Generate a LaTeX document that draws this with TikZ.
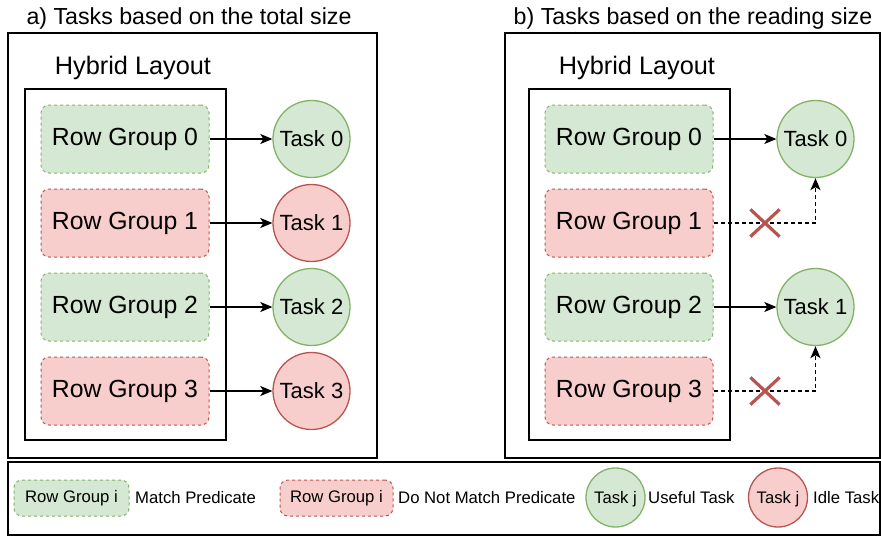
\documentclass[tikz,border=0pt]{standalone}
\usepackage{fontspec}
\setmainfont{Liberation Sans}
\usetikzlibrary{arrows.meta,shapes.misc}
\definecolor{okfill}{HTML}{D5E8D4}
\definecolor{okline}{HTML}{82B366}
\definecolor{nofill}{HTML}{F8CECC}
\definecolor{noline}{HTML}{B85450}
\begin{document}
\begin{tikzpicture}[x=1pt,y=-1pt,>={Stealth[length=12pt,width=10pt,inset=3pt]}]
        \tikzstyle{rgok}=[rectangle,rounded corners=8pt,dashed,dash pattern=on 3pt off 3pt,line width=1pt,draw=okline,fill=okfill,minimum width=168pt,minimum height=68pt,font=\fontsize{24.8}{28}\selectfont]
        \tikzstyle{rgno}=[rgok,draw=noline,fill=nofill]
        \tikzstyle{taskok}=[circle,line width=1.3pt,draw=okline,fill=okfill,minimum size=77pt,inner sep=0pt,text depth=0pt,font=\fontsize{22}{26}\selectfont]
        \tikzstyle{taskno}=[taskok,draw=noline,fill=nofill]
        \tikzstyle{frame}=[draw,line width=1.3pt]
        \tikzstyle{title}=[inner sep=0pt,font=\fontsize{23.2}{28}\selectfont]
        \tikzstyle{edge}=[draw,line width=1.5pt,->]
        \tikzstyle{skip}=[draw,line width=1.5pt,dashed,dash pattern=on 4pt off 3pt,->]
        \tikzstyle{nope}=[cross out,draw=noline,line width=3.2pt,minimum width=26pt,minimum height=24pt,inner sep=0pt]
        \tikzstyle{legtext}=[anchor=west,inner sep=0pt,font=\fontsize{16.7}{20}\selectfont]
        \useasboundingbox (0,0) rectangle (881,536);
       % a) total size
       \begin{scope}
         \node [title] (ta) at (189,18) {a) Tasks based on the total size};
         \draw [frame] (8,33) rectangle (377,458);
         \node [title,font=\fontsize{25.3}{30}\selectfont] (hla) at (133,68) {Hybrid Layout};
         \draw [frame] (25,89) rectangle (226,440);
         \node [rgok] (rg0a) at (125,139) {Row Group 0};
         \node [rgno] (rg1a) at (125,223) {Row Group 1};
         \node [rgok] (rg2a) at (125,307) {Row Group 2};
         \node [rgno] (rg3a) at (125,391) {Row Group 3};
         \node [taskok] (t0a) at (311.5,139) {Task 0};
         \node [taskno] (t1a) at (311.5,223) {Task 1};
         \node [taskok] (t2a) at (311.5,307) {Task 2};
         \node [taskno] (t3a) at (311.5,391) {Task 3};
         \path[edge] (rg0a) -- (t0a);
         \path[edge] (rg1a) -- (t1a);
         \path[edge] (rg2a) -- (t2a);
         \path[edge] (rg3a) -- (t3a);
        \end{scope}
       % b) reading size
       \begin{scope}
         \node [title] (tb) at (693,18) {b) Tasks based on the reading size};
         \draw [frame] (505,33) rectangle (880,458);
         \node [title,font=\fontsize{25.3}{30}\selectfont] (hlb) at (637,68) {Hybrid Layout};
         \draw [frame] (529,89) rectangle (730,440);
         \node [rgok] (rg0b) at (629,139) {Row Group 0};
         \node [rgno] (rg1b) at (629,223) {Row Group 1};
         \node [rgok] (rg2b) at (629,307) {Row Group 2};
         \node [rgno] (rg3b) at (629,391) {Row Group 3};
         \node [taskok] (t0b) at (815.5,139) {Task 0};
         \node [taskok] (t1b) at (815.5,307) {Task 1};
         \path[edge] (rg0b) -- (t0b);
         \path[edge] (rg2b) -- (t1b);
         \path[skip] (rg1b) -| (t0b);
         \path[skip] (rg3b) -| (t1b);
         \node [nope] (x1) at (765,223) {};
         \node [nope] (x3) at (765,391) {};
        \end{scope}
       % legend
       \begin{scope}
         \draw [frame] (8,462) rectangle (880,535);
         \node [rgok,minimum width=115pt,minimum height=36pt,inner sep=0pt,font=\fontsize{16.7}{20}\selectfont] (lrgok) at (71.5,498) {Row Group i};
         \node [legtext] (lok) at (135,498) {Match Predicate};
         \node [rgno,minimum width=113pt,minimum height=36pt,inner sep=0pt,font=\fontsize{16.7}{20}\selectfont] (lrgno) at (336.5,498) {Row Group i};
         \node [legtext] (lno) at (398,498) {Do Not Match Predicate};
         \node [taskok,minimum size=59pt,font=\fontsize{16.7}{20}\selectfont] (ltok) at (615.5,497.5) {Task j};
         \node [legtext] (luse) at (648,498) {Useful Task};
         \node [taskno,minimum size=59pt,font=\fontsize{16.7}{20}\selectfont] (ltno) at (778,497.5) {Task j};
         \node [legtext] (lidle) at (813,498) {Idle Task};
        \end{scope}
      \end{tikzpicture}
\end{document}
